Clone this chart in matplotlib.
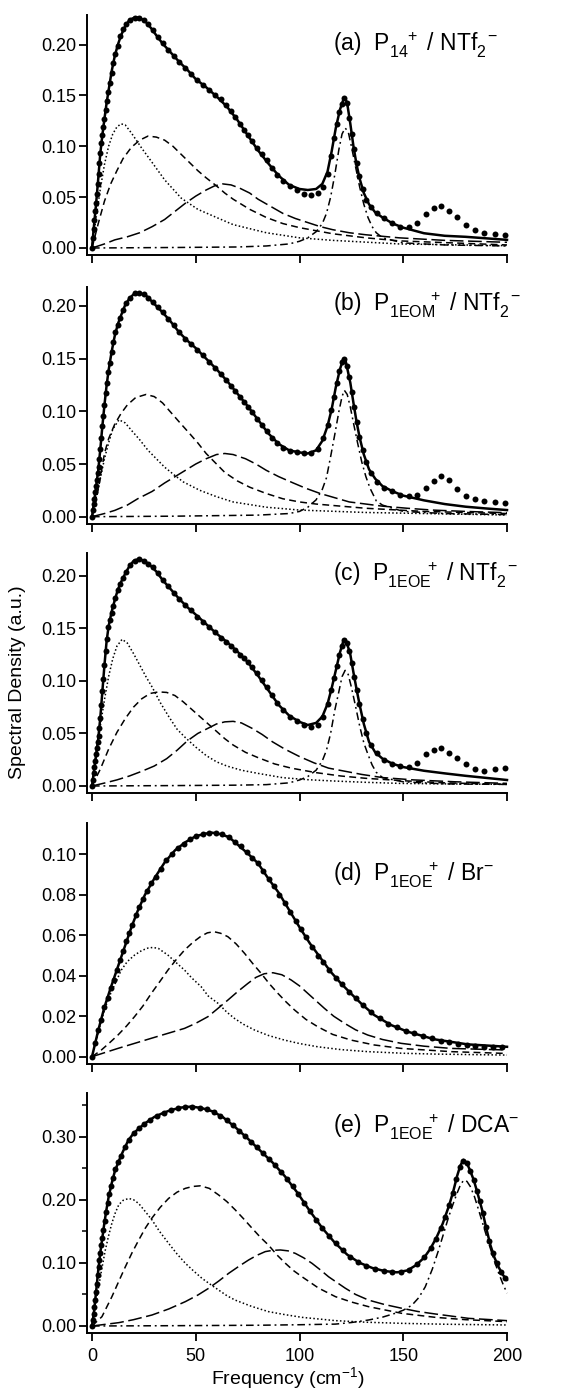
import matplotlib
matplotlib.use('Agg')
import matplotlib.pyplot as plt
from matplotlib.ticker import MultipleLocator

plt.rcParams['font.family'] = ['Liberation Sans', 'DejaVu Sans']
plt.rcParams['mathtext.fontset'] = 'custom'
plt.rcParams['mathtext.rm'] = 'Liberation Sans'
plt.rcParams['mathtext.it'] = 'Liberation Sans:italic'
plt.rcParams['mathtext.bf'] = 'Liberation Sans:bold'

# ---- data ----
DOT_FREQ_ABC = [0, 0.4, 0.8, 1.2, 1.6, 2.0, 2.4, 2.8, 3.2, 3.6,
                4.0, 4.5, 5.0, 5.5, 6.0, 6.6, 7.2, 7.9, 8.6, 9.4,
                10.3, 11.3, 12.4, 13.6, 15.0, 16.6, 18.5, 20.6, 22.8, 25.0,
                27.2, 29.4, 31.6, 34.0, 36.6, 39.3, 42.1, 45.0, 47.9, 50.8,
                53.7, 56.6, 59.4, 62.1, 64.7, 67.0, 69.1, 71.1, 73.1, 75.1,
                77.2, 79.4, 81.7, 84.1, 86.6, 89.3, 92.2, 95.3, 98.6, 102.0,
                105.5, 108.8, 111.5, 113.5, 115.2, 116.7, 118.0, 119.2, 120.4, 121.6,
                122.8, 124.0, 125.2, 126.4, 127.6, 128.9, 130.4, 132.2, 134.4, 137.2,
                140.6, 144.4, 148.4, 152.6, 156.8, 160.8, 164.6, 168.4, 172.2, 176.0,
                180.0, 184.5, 189.0, 194.0, 199.0]

DATA_A = [0, 0.0095, 0.019, 0.028, 0.036, 0.044, 0.053, 0.063, 0.073, 0.084,
          0.093, 0.103, 0.111, 0.119, 0.127, 0.136, 0.144, 0.153, 0.162, 0.172,
          0.182, 0.191, 0.199, 0.208, 0.215, 0.220, 0.224, 0.226, 0.226, 0.224,
          0.220, 0.214, 0.207, 0.201, 0.195, 0.189, 0.183, 0.177, 0.171, 0.165,
          0.160, 0.155, 0.150, 0.146, 0.141, 0.135, 0.129, 0.122, 0.116, 0.111,
          0.105, 0.098, 0.092, 0.086, 0.079, 0.072, 0.066, 0.061, 0.057, 0.053,
          0.052, 0.054, 0.060, 0.073, 0.090, 0.108, 0.122, 0.134, 0.142, 0.147,
          0.143, 0.128, 0.112, 0.097, 0.084, 0.071, 0.058, 0.047, 0.040, 0.034,
          0.029, 0.025, 0.021, 0.021, 0.025, 0.033, 0.039, 0.041, 0.036, 0.030,
          0.023, 0.018, 0.015, 0.014, 0.013]

DATA_B = [0, 0.006, 0.012, 0.017, 0.023, 0.029, 0.035, 0.041, 0.047, 0.055,
          0.064, 0.075, 0.086, 0.096, 0.106, 0.117, 0.127, 0.137, 0.146, 0.156,
          0.166, 0.175, 0.182, 0.189, 0.196, 0.203, 0.208, 0.212, 0.212, 0.211,
          0.208, 0.204, 0.199, 0.194, 0.188, 0.182, 0.175, 0.169, 0.164, 0.158,
          0.153, 0.147, 0.141, 0.135, 0.130, 0.124, 0.119, 0.114, 0.109, 0.104,
          0.099, 0.093, 0.087, 0.081, 0.075, 0.070, 0.065, 0.062, 0.061, 0.060,
          0.060, 0.064, 0.075, 0.087, 0.101, 0.114, 0.127, 0.138, 0.147, 0.150,
          0.143, 0.133, 0.118, 0.104, 0.090, 0.076, 0.063, 0.052, 0.041, 0.033,
          0.027, 0.024, 0.021, 0.020, 0.021, 0.027, 0.034, 0.039, 0.035, 0.026,
          0.020, 0.017, 0.015, 0.014, 0.013]

DATA_C = [0, 0.006, 0.012, 0.018, 0.024, 0.030, 0.036, 0.042, 0.048, 0.055,
          0.065, 0.077, 0.090, 0.102, 0.115, 0.128, 0.140, 0.151, 0.158, 0.165,
          0.171, 0.179, 0.186, 0.192, 0.198, 0.204, 0.210, 0.214, 0.2155, 0.214,
          0.211, 0.208, 0.203, 0.196, 0.190, 0.184, 0.178, 0.172, 0.167, 0.161,
          0.156, 0.151, 0.146, 0.141, 0.137, 0.133, 0.129, 0.125, 0.122, 0.118,
          0.113, 0.107, 0.101, 0.094, 0.087, 0.079, 0.072, 0.066, 0.062, 0.058,
          0.056, 0.058, 0.066, 0.078, 0.091, 0.103, 0.114, 0.125, 0.133, 0.139,
          0.136, 0.128, 0.117, 0.104, 0.091, 0.078, 0.064, 0.050, 0.039, 0.031,
          0.025, 0.021, 0.019, 0.018, 0.022, 0.030, 0.034, 0.036, 0.031, 0.027,
          0.021, 0.016, 0.014, 0.016, 0.017]

FIT_FREQ_ABC = [0, 1, 2, 3, 4, 5, 6, 7, 8, 9.5, 11, 12.5, 14, 16, 18, 20, 22, 24, 26,
                28.5, 31, 34, 38, 42, 46, 50, 55, 60, 65, 70, 75, 80, 85, 90, 95,
                100, 104, 108, 111, 113.5, 115.5, 117.5, 119.5, 121, 122, 123, 124.5,
                126, 127.5, 129, 131, 133.5, 136.5, 140, 145, 150, 160, 170, 180, 190, 200]

FIT_A = [0, 0.023, 0.044, 0.068, 0.093, 0.111, 0.127, 0.142, 0.155, 0.174, 0.189, 0.200,
         0.209, 0.218, 0.224, 0.226, 0.2265, 0.225, 0.222, 0.216, 0.209, 0.201, 0.192,
         0.183, 0.175, 0.166, 0.158, 0.149, 0.139, 0.126, 0.111, 0.096, 0.083, 0.071,
         0.062, 0.058, 0.057, 0.058, 0.063, 0.075, 0.095, 0.118, 0.136, 0.145, 0.1475,
         0.142, 0.122, 0.100, 0.082, 0.068, 0.054, 0.043, 0.035, 0.030, 0.024, 0.020,
         0.0145, 0.012, 0.011, 0.0095, 0.008]

FIT_B = [0, 0.014, 0.029, 0.044, 0.064, 0.086, 0.106, 0.124, 0.139, 0.157, 0.172, 0.183,
         0.191, 0.201, 0.207, 0.211, 0.212, 0.2115, 0.210, 0.205, 0.200, 0.194, 0.185,
         0.175, 0.167, 0.160, 0.150, 0.140, 0.129, 0.117, 0.105, 0.092, 0.079, 0.069,
         0.063, 0.061, 0.060, 0.063, 0.072, 0.086, 0.102, 0.123, 0.140, 0.149, 0.150,
         0.141, 0.127, 0.108, 0.090, 0.075, 0.059, 0.045, 0.036, 0.029, 0.024, 0.020,
         0.0155, 0.012, 0.0095, 0.0078, 0.0063]

FIT_C = [0, 0.015, 0.030, 0.045, 0.065, 0.090, 0.115, 0.137, 0.152, 0.166, 0.177, 0.187,
         0.194, 0.202, 0.209, 0.214, 0.2155, 0.215, 0.213, 0.209, 0.204, 0.196, 0.187,
         0.178, 0.170, 0.163, 0.154, 0.145, 0.137, 0.128, 0.118, 0.105, 0.091, 0.077,
         0.067, 0.061, 0.058, 0.060, 0.066, 0.078, 0.093, 0.110, 0.127, 0.137, 0.1395,
         0.135, 0.125, 0.108, 0.092, 0.077, 0.059, 0.042, 0.032, 0.026, 0.021, 0.018,
         0.0145, 0.012, 0.0097, 0.0077, 0.0057]

A_DOTTED_X = [0, 2, 4, 6, 8, 10, 12, 14, 16, 19, 24, 29, 35, 43, 51, 60, 68, 84, 100, 116, 148, 200]
A_DOTTED_Y = [0, 0.030, 0.058, 0.082, 0.100, 0.112, 0.119, 0.122, 0.121, 0.113, 0.098, 0.084,
              0.067, 0.049, 0.038, 0.030, 0.023, 0.015, 0.010, 0.0075, 0.004, 0.0023]
A_DASHED_X = [0, 3, 6, 9, 12, 15, 19, 23, 27, 31, 35, 39, 43, 47, 51, 55, 60, 64, 68, 76, 84,
              92, 100, 116, 132, 148, 200]
A_DASHED_Y = [0, 0.024, 0.046, 0.063, 0.076, 0.088, 0.099, 0.106, 0.110, 0.109, 0.106, 0.100,
              0.092, 0.084, 0.076, 0.069, 0.061, 0.054, 0.048, 0.038, 0.030, 0.024, 0.020,
              0.014, 0.010, 0.007, 0.003]
A_LONG_X = [0, 6, 11, 17, 23, 29, 35, 40, 45, 50, 55, 59, 63, 67, 71, 76, 80, 86, 92, 98,
            104, 110, 116, 124, 132, 148, 170, 200]
A_LONG_Y = [0, 0.004, 0.008, 0.011, 0.015, 0.021, 0.028, 0.036, 0.044, 0.051, 0.057, 0.061,
            0.063, 0.062, 0.059, 0.054, 0.048, 0.041, 0.034, 0.029, 0.025, 0.021, 0.018,
            0.015, 0.013, 0.010, 0.0075, 0.0056]
A_DASHDOT_X = [0, 40, 70, 84, 95, 100, 104, 108, 111, 113, 115, 117, 119, 120.5, 122, 123.5,
               125, 127, 129, 131, 133, 135, 137, 140, 150, 170, 200]
A_DASHDOT_Y = [0, 0.0005, 0.001, 0.002, 0.004, 0.0066, 0.010, 0.016, 0.024, 0.034, 0.050,
               0.072, 0.097, 0.112, 0.118, 0.114, 0.100, 0.080, 0.060, 0.043, 0.030, 0.021,
               0.015, 0.010, 0.005, 0.003, 0.002]

B_DOTTED_X = [0, 2, 4, 6, 8, 10, 13, 16, 19, 23, 27, 31, 35, 40, 44, 52, 60, 68, 84, 100, 132, 200]
B_DOTTED_Y = [0, 0.018, 0.036, 0.055, 0.070, 0.083, 0.092, 0.089, 0.082, 0.073, 0.063, 0.055,
              0.047, 0.039, 0.033, 0.025, 0.019, 0.014, 0.009, 0.0063, 0.004, 0.0016]
B_DASHED_X = [0, 2, 4, 6, 8, 11, 14, 17, 21, 26, 30, 34, 38, 42, 47, 51, 55, 60, 64, 70, 76,
              84, 92, 100, 108, 120, 132, 160, 200]
B_DASHED_Y = [0, 0.016, 0.037, 0.060, 0.074, 0.088, 0.098, 0.106, 0.113, 0.116, 0.114, 0.108,
              0.099, 0.090, 0.079, 0.070, 0.060, 0.050, 0.042, 0.034, 0.028, 0.022, 0.017,
              0.014, 0.012, 0.010, 0.008, 0.005, 0.003]
B_LONG_X = [0, 6, 11, 17, 22, 29, 35, 40, 45, 50, 55, 60, 64, 68, 74, 79, 84, 90, 97, 103,
            110, 117, 124, 132, 140, 152, 164, 180, 200]
B_LONG_Y = [0, 0.003, 0.006, 0.011, 0.017, 0.024, 0.032, 0.038, 0.044, 0.050, 0.055, 0.059,
            0.060, 0.059, 0.055, 0.050, 0.044, 0.038, 0.032, 0.027, 0.022, 0.018, 0.014,
            0.012, 0.010, 0.008, 0.0063, 0.005, 0.0038]
B_DASHDOT_X = [0, 40, 80, 95, 100, 104, 108, 111, 113, 115, 117, 119, 120.5, 121.6, 123,
               124.5, 126, 128, 130, 132, 134, 137, 140, 150, 170, 200]
B_DASHDOT_Y = [0, 0.0005, 0.0015, 0.003, 0.005, 0.009, 0.016, 0.026, 0.037, 0.057, 0.078,
               0.100, 0.114, 0.120, 0.116, 0.104, 0.089, 0.070, 0.052, 0.038, 0.027, 0.015,
               0.011, 0.005, 0.003, 0.002]

C_DOTTED_X = [0, 2, 4, 6, 8, 10, 12, 14.5, 17, 20, 23, 26, 29, 33, 37, 41, 45, 50, 55, 60,
              65, 72, 80, 92, 104, 116, 132, 148, 170, 200]
C_DOTTED_Y = [0, 0.030, 0.057, 0.082, 0.104, 0.121, 0.133, 0.1395, 0.136, 0.126, 0.115,
              0.104, 0.094, 0.079, 0.066, 0.054, 0.046, 0.037, 0.029, 0.023, 0.019, 0.015,
              0.012, 0.0079, 0.006, 0.0048, 0.0035, 0.0025, 0.002, 0.0016]
C_DASHED_X = [0, 4, 8, 12, 16, 20, 24, 28, 32, 36, 40, 44, 48, 52, 56, 60, 64, 68, 74, 80,
              88, 96, 108, 120, 132, 150, 170, 200]
C_DASHED_Y = [0, 0.016, 0.035, 0.051, 0.064, 0.075, 0.083, 0.088, 0.0895, 0.089, 0.086,
              0.080, 0.073, 0.066, 0.059, 0.052, 0.045, 0.039, 0.032, 0.027, 0.021, 0.017,
              0.0127, 0.0095, 0.0073, 0.005, 0.003, 0.0016]
C_LONG_X = [0, 6, 12, 18, 24, 30, 36, 41, 46, 51, 56, 60, 64, 68, 72, 77, 82, 87, 93, 100,
            107, 114, 122, 130, 140, 155, 175, 200]
C_LONG_Y = [0, 0.0028, 0.0058, 0.0095, 0.014, 0.019, 0.026, 0.034, 0.043, 0.050, 0.055,
            0.059, 0.061, 0.0615, 0.060, 0.055, 0.049, 0.042, 0.035, 0.028, 0.022, 0.017,
            0.014, 0.011, 0.008, 0.0058, 0.004, 0.0025]
C_DASHDOT_X = [0, 40, 70, 84, 95, 100, 104, 108, 111, 113, 115, 117, 119, 120.5, 122, 123.5,
               125, 127, 129, 131, 133, 135, 137, 140, 150, 170, 200]
C_DASHDOT_Y = [0, 0.0004, 0.0008, 0.0013, 0.003, 0.0057, 0.009, 0.015, 0.024, 0.034, 0.050,
               0.072, 0.090, 0.104, 0.110, 0.106, 0.094, 0.076, 0.057, 0.041, 0.030, 0.020,
               0.013, 0.008, 0.004, 0.002, 0.0015]

DOT_FREQ_D = [0, 1.5, 3, 4.5, 6, 7.5, 9, 10.5, 12, 13.5,
              15, 16.5, 18, 19.5, 21, 22.7, 24.5, 26.5, 28.6, 30.9,
              33.3, 35.8, 38.5, 41.3, 44.2, 47.2, 50.3, 53.4, 56.5, 59.6,
              62.7, 65.8, 68.8, 71.7, 74.5, 77.2, 79.9, 82.5, 85.1, 87.7,
              90.3, 92.9, 95.5, 98.1, 100.7, 103.3, 106.0, 108.7, 111.5, 114.4,
              117.4, 120.5, 123.8, 127.2, 130.8, 134.6, 138.6, 142.8, 147.0, 151.2,
              155.4, 159.6, 163.8, 168.0, 172.2, 176.4, 180.6, 184.8, 189.0, 193.2,
              197.4]
DATA_D = [0, 0.007, 0.013, 0.018, 0.0245, 0.029, 0.034, 0.038, 0.043, 0.048,
          0.052, 0.057, 0.061, 0.065, 0.070, 0.074, 0.078, 0.082, 0.086, 0.089,
          0.093, 0.097, 0.100, 0.103, 0.105, 0.1075, 0.109, 0.110, 0.1105, 0.1105,
          0.110, 0.1085, 0.106, 0.104, 0.101, 0.098, 0.0957, 0.092, 0.088, 0.0845,
          0.080, 0.076, 0.0715, 0.067, 0.063, 0.059, 0.054, 0.050, 0.047, 0.043,
          0.039, 0.036, 0.032, 0.029, 0.0255, 0.022, 0.019, 0.016, 0.0145, 0.0128,
          0.0115, 0.0102, 0.009, 0.008, 0.0072, 0.0065, 0.0058, 0.0052, 0.005, 0.0046,
          0.0048]
FIT_FREQ_D = [0, 3, 6, 9, 12.5, 16, 19, 22, 25.5, 30, 35, 40, 45, 50, 55, 58, 62, 66, 70, 75,
              80, 85, 90, 95, 100, 105, 110, 115, 120, 125, 130, 136, 144, 152, 165, 181, 200]
FIT_D = [0, 0.013, 0.0245, 0.034, 0.0445, 0.055, 0.064, 0.072, 0.080, 0.088, 0.096, 0.102,
         0.106, 0.109, 0.1103, 0.1107, 0.110, 0.1085, 0.105, 0.1005, 0.0956, 0.088, 0.081,
         0.0725, 0.064, 0.056, 0.049, 0.042, 0.0362, 0.031, 0.026, 0.0206, 0.0157, 0.0124,
         0.0086, 0.0061, 0.0049]
D_DOTTED_X = [0, 2, 4.5, 7, 9.3, 12, 14.1, 17, 20.5, 24, 27, 29.4, 32, 36.6, 40, 44.6, 48,
              52.6, 56, 60.7, 65, 68.7, 73, 78.3, 85, 92.8, 100, 108.8, 120, 132.9, 150, 165, 200]
D_DOTTED_Y = [0, 0.008, 0.018, 0.026, 0.032, 0.038, 0.0428, 0.047, 0.0502, 0.0525, 0.0537,
              0.054, 0.0535, 0.0502, 0.047, 0.0428, 0.039, 0.0346, 0.030, 0.0264, 0.022,
              0.0189, 0.016, 0.0132, 0.0105, 0.0082, 0.0065, 0.0049, 0.0035, 0.0025, 0.0017,
              0.0013, 0.0008]
D_DASHED_X = [0, 4.5, 8.5, 12.5, 16.5, 20.5, 24.5, 28.6, 32.6, 36.6, 40.6, 44.6, 48.6, 52.6,
              55.6, 58.7, 62, 65.5, 69.5, 73.5, 77.5, 81.5, 85.5, 89.6, 93.6, 97.6, 103, 108.8,
              116, 124.9, 136, 149, 173, 200]
D_DASHED_Y = [0, 0.0033, 0.0069, 0.0107, 0.015, 0.0198, 0.025, 0.0313, 0.037, 0.0428, 0.048,
              0.0527, 0.0565, 0.0596, 0.0612, 0.0618, 0.061, 0.0593, 0.0557, 0.0511, 0.046,
              0.0412, 0.036, 0.0313, 0.027, 0.0231, 0.0185, 0.0148, 0.011, 0.0082, 0.0058,
              0.0041, 0.0025, 0.0016]
D_LONG_X = [0, 12.5, 28.6, 44.6, 50, 55.9, 60.5, 65.5, 70, 75.1, 79, 83, 87.2, 91.5, 96, 100,
            104, 108, 112, 116.5, 121.7, 127, 132.9, 140, 149, 160, 173, 200]
D_LONG_Y = [0, 0.0041, 0.0091, 0.014, 0.0165, 0.0198, 0.0237, 0.028, 0.032, 0.0362, 0.0392,
            0.041, 0.0415, 0.0405, 0.0379, 0.035, 0.0313, 0.0276, 0.0239, 0.020, 0.0165,
            0.0133, 0.0107, 0.0085, 0.0066, 0.0052, 0.0041, 0.0033]

DOT_FREQ_E = [0, 0.4, 0.8, 1.2, 1.6, 2.0, 2.4, 2.8, 3.2, 3.6,
              4.0, 4.5, 5.0, 5.5, 6.1, 6.8, 7.5, 8.3, 9.2, 10.2,
              11.3, 12.6, 14.1, 15.8, 17.8, 20.0, 22.5, 25.2, 28.1, 31.2,
              34.5, 37.9, 41.4, 44.9, 48.4, 51.9, 55.3, 58.6, 61.8, 64.9,
              67.9, 70.9, 73.8, 76.7, 79.6, 82.5, 85.4, 88.3, 91.1, 93.9,
              96.7, 99.5, 102.3, 105.1, 108.0, 111.0, 114.1, 117.4, 120.8, 124.4,
              128.2, 132.2, 136.3, 140.5, 144.7, 148.9, 153.0, 156.8, 160.2, 163.2,
              165.8, 168.1, 170.2, 172.1, 173.9, 175.6, 177.3, 179.0, 180.7, 182.3,
              183.9, 185.4, 186.9, 188.4, 189.9, 191.5, 193.2, 195.0, 197.0, 199.2]
DATA_E = [0, 0.009, 0.019, 0.030, 0.041, 0.054, 0.067, 0.081, 0.094, 0.105,
          0.116, 0.128, 0.140, 0.152, 0.166, 0.181, 0.195, 0.209, 0.222, 0.235,
          0.248, 0.259, 0.270, 0.283, 0.295, 0.305, 0.313, 0.320, 0.327, 0.333,
          0.338, 0.342, 0.345, 0.347, 0.3476, 0.346, 0.343, 0.339, 0.333, 0.326,
          0.318, 0.309, 0.301, 0.292, 0.283, 0.274, 0.265, 0.255, 0.244, 0.233,
          0.221, 0.209, 0.195, 0.182, 0.168, 0.155, 0.143, 0.131, 0.120, 0.110,
          0.101, 0.095, 0.090, 0.087, 0.085, 0.085, 0.089, 0.098, 0.109, 0.123,
          0.138, 0.155, 0.172, 0.191, 0.211, 0.233, 0.252, 0.262, 0.258, 0.246,
          0.232, 0.214, 0.198, 0.179, 0.157, 0.134, 0.115, 0.100, 0.086, 0.076]
FIT_FREQ_E = [0, 1, 2, 3, 4, 5, 6, 7, 8, 9.5, 11, 13, 15, 17.5, 20, 23, 26, 30, 34, 38, 43,
              48, 53, 58, 63, 69, 75, 81, 87, 93, 99, 105, 111, 117, 123, 129, 135, 141, 147,
              152, 156, 160, 163, 166, 169, 172, 174, 176, 177.5, 179, 180.5, 182, 184, 186,
              188, 190, 192, 194, 196, 198, 200]
FIT_E = [0, 0.024, 0.055, 0.088, 0.116, 0.140, 0.164, 0.185, 0.204, 0.226, 0.245, 0.262,
         0.277, 0.294, 0.305, 0.314, 0.322, 0.331, 0.337, 0.342, 0.346, 0.3476, 0.345, 0.340,
         0.331, 0.315, 0.297, 0.278, 0.259, 0.237, 0.211, 0.182, 0.155, 0.132, 0.113, 0.100,
         0.092, 0.087, 0.085, 0.088, 0.096, 0.108, 0.122, 0.140, 0.162, 0.190, 0.212, 0.238,
         0.254, 0.263, 0.259, 0.248, 0.231, 0.208, 0.184, 0.155, 0.128, 0.108, 0.093, 0.081,
         0.073]
E_DOTTED_X = [0, 1.6, 3.2, 4.8, 6.4, 8, 9.6, 11.2, 12.9, 15, 17.7, 20, 22.5, 25.5, 28.9, 32.5,
              36.9, 41, 45, 49, 53, 57, 61, 65, 69, 77, 85.1, 93, 101.2, 117.3, 132, 149.4,
              170, 200]
E_DOTTED_Y = [0, 0.032, 0.062, 0.092, 0.120, 0.143, 0.163, 0.179, 0.192, 0.199, 0.202, 0.200,
              0.194, 0.182, 0.168, 0.150, 0.131, 0.114, 0.0993, 0.087, 0.0755, 0.066, 0.057,
              0.048, 0.041, 0.031, 0.0227, 0.018, 0.0137, 0.0085, 0.006, 0.0042, 0.0028, 0.0016]
E_DASHED_X = [0, 4.8, 9.6, 12.8, 16.1, 19.3, 22.5, 25.7, 28.9, 32.9, 36.9, 41, 45, 48.6, 52.2,
              56.5, 61, 65, 69, 73, 77.1, 81, 85.1, 89, 93.2, 97, 101.2, 109.2, 117.3, 125,
              133.3, 149.4, 165.5, 180, 200]
E_DASHED_Y = [0, 0.0148, 0.0465, 0.070, 0.094, 0.116, 0.136, 0.155, 0.171, 0.188, 0.202,
              0.212, 0.218, 0.221, 0.222, 0.218, 0.2076, 0.197, 0.184, 0.170, 0.155, 0.141,
              0.128, 0.113, 0.0993, 0.088, 0.078, 0.060, 0.0465, 0.038, 0.0306, 0.020, 0.0137,
              0.010, 0.0069]
E_LONG_X = [0, 12.9, 20, 28.9, 37, 45, 51, 56.2, 61, 65.9, 71, 75.5, 79.5, 83.5, 87, 90.8,
            94.5, 98, 102, 106, 110, 114, 118, 122, 127, 133.3, 141, 149.4, 157, 165.5,
            181.5, 200]
E_LONG_Y = [0, 0.0053, 0.010, 0.0174, 0.027, 0.0386, 0.049, 0.0597, 0.071, 0.0835, 0.095,
            0.1046, 0.112, 0.1178, 0.1198, 0.1204, 0.119, 0.115, 0.108, 0.0993, 0.089, 0.078,
            0.069, 0.060, 0.050, 0.041, 0.034, 0.028, 0.023, 0.019, 0.0121, 0.0085]
E_DASHDOT_X = [0, 40, 80, 100, 117.3, 125, 133.3, 140, 146, 150, 154.2, 157.5, 160.6, 164, 167,
               169.5, 171.9, 174, 175.9, 177.5, 179.1, 180.7, 182.3, 184.3, 186.3, 188.7,
               191.2, 193.6, 196, 198, 200]
E_DASHDOT_Y = [0, 0.0005, 0.0012, 0.002, 0.003, 0.0055, 0.0095, 0.014, 0.020, 0.025, 0.033,
               0.045, 0.062, 0.090, 0.120, 0.147, 0.173, 0.193, 0.210, 0.223, 0.231, 0.229,
               0.221, 0.205, 0.184, 0.158, 0.131, 0.106, 0.0835, 0.067, 0.052]

TAGS = [r'(a)  P$_{14}^{\hspace{1.2}+}$ / NTf$_{2}^{\hspace{0.65}-}$',
        r'(b)  P$_{\mathrm{1EOM}}^{\hspace{2.9}+}$ / NTf$_{2}^{\hspace{0.65}-}$',
        r'(c)  P$_{\mathrm{1EOE}}^{\hspace{2.75}+}$ / NTf$_{2}^{\hspace{0.65}-}$',
        r'(d)  P$_{\mathrm{1EOE}}^{\hspace{2.75}+}$ / Br$^{-}$',
        r'(e)  P$_{\mathrm{1EOE}}^{\hspace{2.75}+}$ / DCA$^{-}$']
Y_TICKS = [[0, 0.05, 0.10, 0.15, 0.20],
           [0, 0.05, 0.10, 0.15, 0.20],
           [0, 0.05, 0.10, 0.15, 0.20],
           [0, 0.02, 0.04, 0.06, 0.08, 0.10],
           [0, 0.10, 0.20, 0.30]]
X_TICKS = [0, 50, 100, 150, 200]

# ---- layout (pixels in a 571 x 1389 image) ----
W, H = 571, 1389
X0_PX, X1_PX = 92, 507
AXIS_GAP_PX = 5
# (pixel row of y=0, pixel row of the axis top, data value at the top)
PANEL_PX = [(248, 15, 0.229), (516.7, 287, 0.218), (786, 553, 0.2216),
            (1056.7, 823, 0.1155), (1326, 1093, 0.369)]
TAG_BASE_PX = [52, 312, 582, 881, 1133]

DOTTED = (0, (1.0, 1.5))
DASHED = (0, (4.5, 2.8))
LONGDASH = (0, (9, 3))
DASHDOT = (0, (5, 2.5, 1.2, 2.5))


def plot_panel(ax, dots, fit, comps):
    for (cx, cy), style in comps:
        ax.plot(cx, cy, color='black', lw=1.1, linestyle=style, clip_on=False, zorder=2)
    ax.plot(fit[0], fit[1], '-', color='black', lw=1.8, clip_on=False, zorder=3)
    ax.plot(dots[0], dots[1], 'o', color='black', ms=4.3, mew=0, clip_on=False, zorder=4)


panels = [
    ((DOT_FREQ_ABC, DATA_A), (FIT_FREQ_ABC, FIT_A),
     [((A_DOTTED_X, A_DOTTED_Y), DOTTED), ((A_DASHED_X, A_DASHED_Y), DASHED),
      ((A_LONG_X, A_LONG_Y), LONGDASH), ((A_DASHDOT_X, A_DASHDOT_Y), DASHDOT)]),
    ((DOT_FREQ_ABC, DATA_B), (FIT_FREQ_ABC, FIT_B),
     [((B_DOTTED_X, B_DOTTED_Y), DOTTED), ((B_DASHED_X, B_DASHED_Y), DASHED),
      ((B_LONG_X, B_LONG_Y), LONGDASH), ((B_DASHDOT_X, B_DASHDOT_Y), DASHDOT)]),
    ((DOT_FREQ_ABC, DATA_C), (FIT_FREQ_ABC, FIT_C),
     [((C_DOTTED_X, C_DOTTED_Y), DOTTED), ((C_DASHED_X, C_DASHED_Y), DASHED),
      ((C_LONG_X, C_LONG_Y), LONGDASH), ((C_DASHDOT_X, C_DASHDOT_Y), DASHDOT)]),
    ((DOT_FREQ_D, DATA_D), (FIT_FREQ_D, FIT_D),
     [((D_DOTTED_X, D_DOTTED_Y), DOTTED), ((D_DASHED_X, D_DASHED_Y), DASHED),
      ((D_LONG_X, D_LONG_Y), LONGDASH)]),
    ((DOT_FREQ_E, DATA_E), (FIT_FREQ_E, FIT_E),
     [((E_DOTTED_X, E_DOTTED_Y), DOTTED), ((E_DASHED_X, E_DASHED_Y), DASHED),
      ((E_LONG_X, E_LONG_Y), LONGDASH), ((E_DASHDOT_X, E_DASHDOT_Y), DASHDOT)]),
]

fig = plt.figure(figsize=(W / 100, H / 100), dpi=100)
x_per_px = 200 / (X1_PX - X0_PX)

for i, (dots, fit, comps) in enumerate(panels):
    zero_px, top_px, ytop = PANEL_PX[i]
    per_px = ytop / (zero_px - top_px)
    bottom_px = zero_px + 7
    left_px = X0_PX - AXIS_GAP_PX
    ax = fig.add_axes([left_px / W, 1 - bottom_px / H,
                       (X1_PX - left_px) / W, (bottom_px - top_px) / H])
    plot_panel(ax, dots, fit, comps)
    ax.set_xlim(-AXIS_GAP_PX * x_per_px, 200)
    ax.set_ylim(-7 * per_px, ytop)
    ax.set_xticks(X_TICKS)
    ax.set_yticks(Y_TICKS[i])
    ax.set_yticklabels(['%.2f' % t for t in Y_TICKS[i]])
    if i == 4:
        ax.yaxis.set_minor_locator(MultipleLocator(0.05))
        ax.set_xticklabels([str(t) for t in X_TICKS])
    else:
        ax.set_xticklabels([])
    for side in ('top', 'right'):
        ax.spines[side].set_visible(False)
    for side in ('left', 'bottom'):
        ax.spines[side].set_linewidth(1.4)
    ax.tick_params(axis='both', which='major', direction='out', length=6, width=1.3,
                   labelsize=13, colors='black')
    ax.tick_params(axis='y', which='minor', direction='out', length=3.5, width=1.1)
    ax.tick_params(axis='y', pad=1.5)
    ax.tick_params(axis='x', pad=5)
    fig.text(333 / W, 1 - TAG_BASE_PX[i] / H, TAGS[i], fontsize=16.5,
             ha='left', va='baseline')

fig.text(18 / W, 1 - 682 / H, 'Spectral Density (a.u.)', rotation=90,
         ha='center', va='center', fontsize=14)
fig.text(288 / W, 1 - 1378 / H, 'Frequency (cm$^{-1}$)', ha='center', va='center',
         fontsize=14)

fig.savefig('out.png', dpi=100)
